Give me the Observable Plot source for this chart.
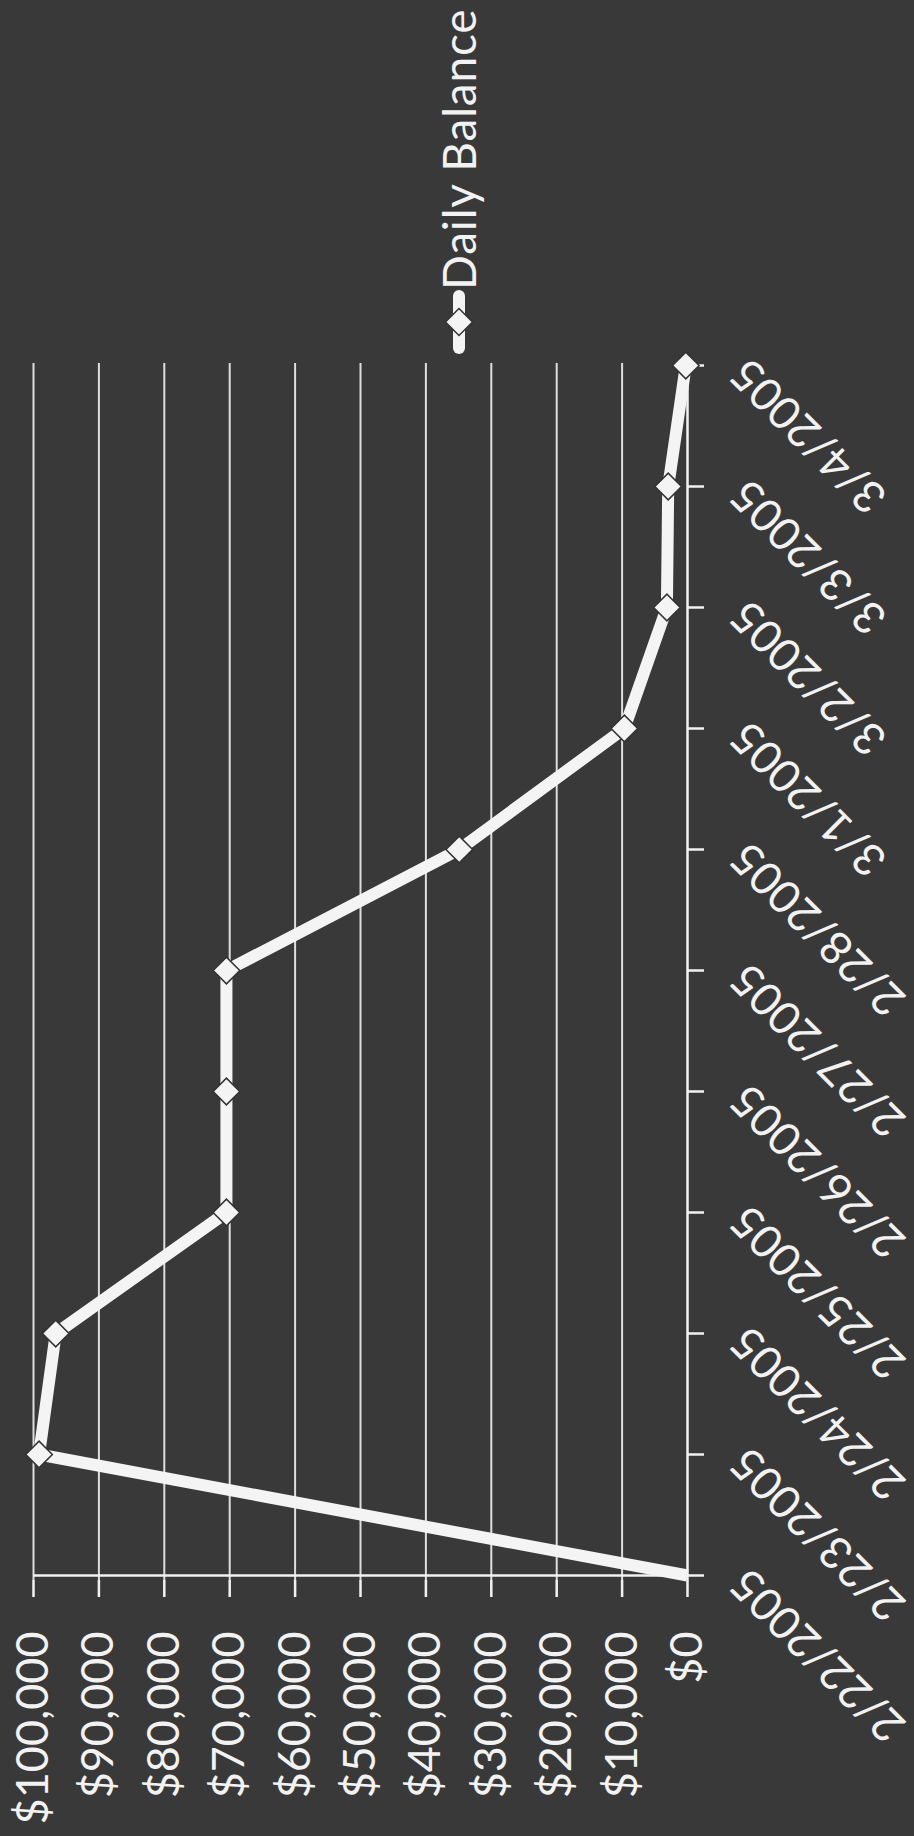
<!DOCTYPE html>
<html>
<head>
<meta charset="utf-8">
<script src="https://cdn.jsdelivr.net/npm/d3@7"></script>
<script src="https://cdn.jsdelivr.net/npm/@observablehq/plot@0.6"></script>
<style>
  html, body { margin: 0; padding: 0; background: #393939; overflow: hidden; }
  /* The chart is laid out landscape (1836 x 914) and turned a quarter turn counter-clockwise to fill the portrait page. */
  #page {
    position: absolute; left: 0; top: 0;
    width: 1836px; height: 914px;
    transform-origin: 0 0;
    transform: translate(0px, 1836px) rotate(-90deg);
    background: #393939;
    font-family: Lato, "Open Sans", sans-serif;
    color: #f2f2f2;
  }
  #legend {
    position: absolute; left: 1482px; top: 429px; height: 60px;
    display: flex; align-items: center;
    font-size: 46px; line-height: 1; letter-spacing: 0.8px; white-space: nowrap;
  }
  #legend svg { display: block; }
</style>
</head>
<body>
<div id="page"></div>
<script>
// Daily account balance, one value per calendar day
const dates = ["2/22/2005", "2/23/2005", "2/24/2005", "2/25/2005", "2/26/2005", "2/27/2005",
               "2/28/2005", "3/1/2005", "3/2/2005", "3/3/2005", "3/4/2005"];
const balances = [0, 99150, 96600, 70500, 70500, 70500, 34900, 9650, 3150, 2950, 260];
const valueTicks = [0, 10000, 20000, 30000, 40000, 50000, 60000, 70000, 80000, 90000, 100000];
const seriesName = "Daily Balance";

const ink = "#f2f2f2";
const gridInk = "#dedede";
const rows = dates.map((date, i) => ({date, balance: balances[i]}));

const chart = Plot.plot({
  width: 1836,
  height: 914,
  marginLeft: 256,
  marginRight: 363,
  marginTop: 33,
  marginBottom: 227,
  style: {background: "transparent", color: ink, fontFamily: "Lato, 'Open Sans', sans-serif", fontSize: "45px", overflow: "visible"},
  x: {type: "point", domain: dates, padding: 0},
  y: {domain: [0, 100000]},
  marks: [
    // horizontal gridlines
    Plot.ruleY(valueTicks.filter(v => v > 0), {stroke: gridInk, strokeWidth: 2}),
    // axis lines
    Plot.ruleY([0], {stroke: ink, strokeWidth: 2.5}),
    Plot.ruleX([dates[0]], {stroke: ink, strokeWidth: 2.5}),
    // value axis: ticks and currency labels
    Plot.axisY({ticks: valueTicks, tickFormat: d3.format("$,"), tickSize: 17, tickPadding: 35,
                fontSize: 45, strokeWidth: 2.5, label: null}),
    // category axis ticks
    Plot.axisX({tickSize: 17, strokeWidth: 2.5, fill: "none", tickFormat: () => "", label: null}),
    // slanted date labels
    Plot.text(dates, {x: d => d, frameAnchor: "bottom", dy: 52, rotate: -45,
                      textAnchor: "end", lineAnchor: "middle", fontSize: 45, fill: ink}),
    // balance line with diamond markers
    Plot.line(rows, {x: "date", y: "balance", stroke: "#f4f4f4", strokeWidth: 12,
                     strokeLinejoin: "round", strokeLinecap: "butt"}),
    Plot.dot(rows.slice(1), {x: "date", y: "balance", symbol: "diamond2", r: 12,
                             fill: "#f4f4f4", stroke: "#333", strokeWidth: 1.5})
  ]
});

const page = document.getElementById("page");
page.appendChild(chart);

// legend: line-with-diamond swatch and series name
const legend = document.createElement("div");
legend.id = "legend";
legend.innerHTML =
  `<svg width="64" height="30" viewBox="0 0 64 30">
     <line x1="6" y1="15" x2="58" y2="15" stroke="#f4f4f4" stroke-width="12" stroke-linecap="round"/>
     <path d="M32,1.5L45.5,15L32,28.5L18.5,15Z" fill="#f4f4f4" stroke="#333" stroke-width="1.5"/>
   </svg>
   <span></span>`;
legend.querySelector("span").textContent = seriesName;
page.appendChild(legend);
</script>
</body>
</html>
